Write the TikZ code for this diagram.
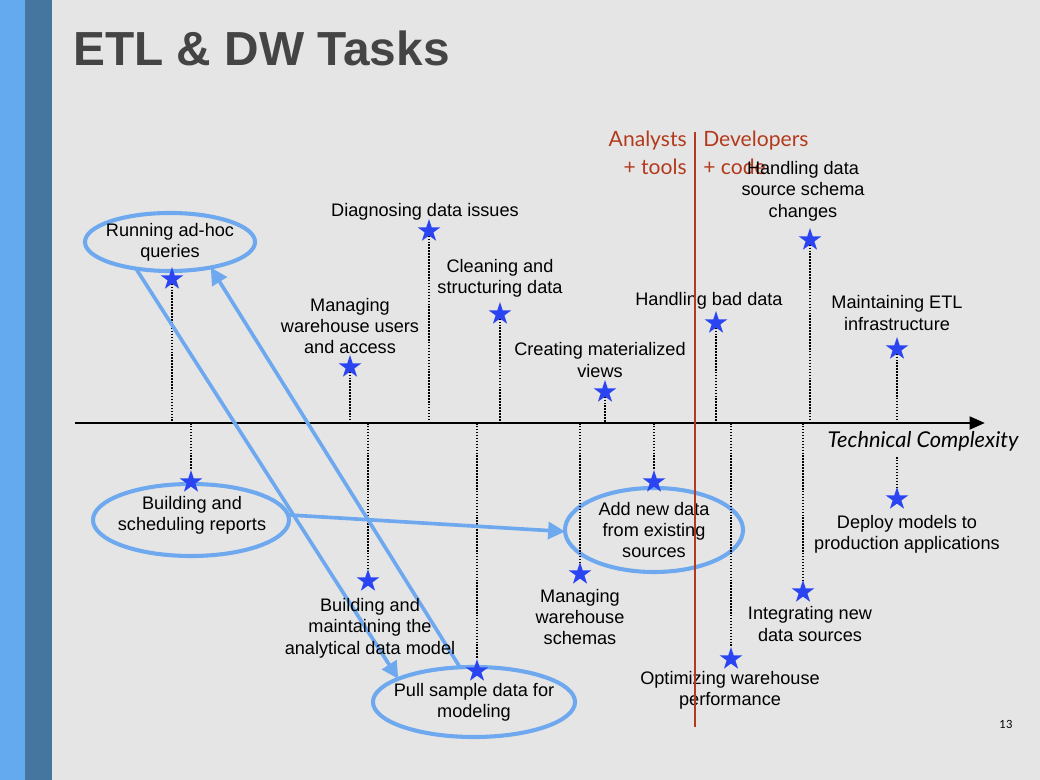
\documentclass[tikz,border=0pt]{standalone}
\usepackage{fontspec}
\setmainfont{Liberation Sans}
\newfontfamily\gillfont{Lato}
\usepackage{tikz}
\usetikzlibrary{arrows.meta,shapes.geometric}
\definecolor{slidegray}{HTML}{E5E5E5}
\definecolor{barlight}{HTML}{63AAEE}
\definecolor{bardark}{HTML}{4476A0}
\definecolor{titleink}{HTML}{444444}
\definecolor{splitred}{HTML}{B33A1D}
\definecolor{starblue}{HTML}{2B44F2}
\definecolor{ovalblue}{HTML}{6EA8EE}

\begin{document}
\begin{tikzpicture}[x=0.025cm,y=-0.025cm,
  task/.style={align=center,inner sep=0pt,font=\fontsize{12.9}{15.2}\selectfont},
  oval/.style={draw=ovalblue,line width=2.9pt,ellipse,inner sep=0pt,outer sep=0pt},
  star5/.style={star,star points=5,star point ratio=2.6,fill=starblue,
    minimum size=0.6cm,inner sep=0pt,outer sep=0pt},
  drop/.style={densely dotted,line width=1.1pt},
  flow/.style={ovalblue,line width=2.6pt,-{Triangle[length=12pt,width=12pt]}},
  role/.style={text=splitred,inner sep=0pt,font=\gillfont\fontsize{15}{19.5}\selectfont}]
  \fill[slidegray] (0,0) rectangle (1040,780);
  \useasboundingbox (0,0) rectangle (1040,780);
  \fill[barlight] (0,0) rectangle (25,780);
  \fill[bardark] (25,0) rectangle (52,780);

  \node[anchor=base west,inner sep=0pt,text=titleink,
    font=\bfseries\fontsize{34}{40}\selectfont] (title) at (73,66) {ETL \& DW Tasks};

  \coordinate (axisL) at (75,423);
  \coordinate (axisR) at (985,423);
  \draw[line width=2.1pt,-{Triangle[length=11pt,width=9pt]}] (axisL) -- (axisR);
  \node[inner sep=0pt,font=\gillfont\itshape\fontsize{15.5}{17}\selectfont]
    (complexity) at (923,441) {Technical Complexity};

  \node[role,anchor=east,align=right] (analysts) at (687,153) {Analysts\\+ tools};
  \node[role,anchor=west,align=left] (developers) at (703,153) {Developers\\+ code};

  \node[oval,minimum width=4.25cm,minimum height=1.45cm] (adhoc) at (170,242) {};
  \node[oval,minimum width=4.9cm,minimum height=1.8cm] (reports) at (191,520) {};
  \node[oval,minimum width=5.05cm,minimum height=1.75cm] (sample) at (474,702) {};
  \node[oval,minimum width=4.45cm,minimum height=2.1cm] (addnew) at (654,530) {};

  \foreach \s/\px/\py in {adhocstar/172/279,usersstar/350/367,diagstar/429/231,
      cleanstar/500/314,viewsstar/605/392,badstar/716/323,schemastar/810/240,
      infrastar/897/349}{
    \node[star5] (\s) at (\px,\py) {};
    \draw[drop] (\s.south) -- (\s |- axisL);
  }
  \foreach \s/\px/\py in {reportsstar/191/482,modelstar/368/581,samplestar/477/671,
      wschemastar/580/574,addstar/654/482,perfstar/731/659,integstar/803/592}{
    \node[star5] (\s) at (\px,\py) {};
    \draw[drop] (\s |- axisL) -- (\s.north);
  }
  \node[star5] (deploystar) at (897,499) {};
  \coordinate (deploytop) at (897,457);
  \draw[drop] (deploytop) -- (deploystar.north);

  \draw[flow] (adhoc.218) -- (sample.163);
  \draw[flow] (sample.112) -- (adhoc.328);
  \draw[flow] (reports.3) -- (addnew.181);

  \node[task] (adhoctext) at (adhoc) {Running ad-hoc\\queries};
  \node[task] (users) at (350,326) {Managing\\warehouse users\\and access};
  \node[task] (diagnose) at (425,212) {Diagnosing data issues};
  \node[task] (cleaning) at (500,278) {Cleaning and\\structuring data};
  \node[task] (matviews) at (600,360) {Creating materialized\\views};
  \node[task] (baddata) at (709,301) {Handling bad data};
  \node[task] (schemachg) at (803,191) {Handling data\\source schema\\changes};
  \node[task] (etlinfra) at (897,313) {Maintaining ETL\\infrastructure};

  \node[task] (reportstext) at (192,515) {Building and\\scheduling reports};
  \node[task] (datamodel) at (370,628) {Building and\\maintaining the\\analytical data model};
  \node[task] (sampletext) at (sample) {Pull sample data for\\modeling};
  \node[task] (wschemas) at (580,617) {Managing\\warehouse\\schemas};
  \node[task] (addnewtext) at (addnew) {Add new data\\from existing\\sources};
  \node[task] (optimize) at (730,690) {Optimizing warehouse\\performance};
  \node[task] (integrate) at (810,624) {Integrating new\\data sources};
  \node[task] (deploy) at (907,534) {Deploy models to\\production applications};

  \draw[splitred,line width=1.5pt] (695,132) -- (695,727);
  \node[inner sep=0pt,font=\gillfont\fontsize{8}{9}\selectfont] (pagenum) at (1006,724) {13};
\end{tikzpicture}
\end{document}
